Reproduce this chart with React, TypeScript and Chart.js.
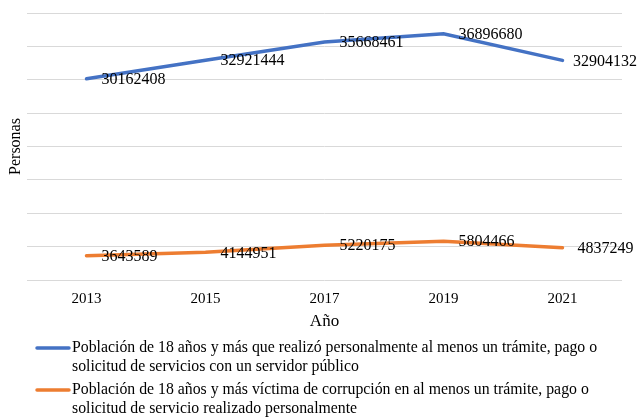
import React, { useEffect, useRef } from "react";
import { Chart, registerables } from "chart.js";

Chart.register(...registerables);

const years = ["2013", "2015", "2017", "2019", "2021"];
const tramites = [30162408, 32921444, 35668461, 36896680, 32904132];
const corrupcion = [3643589, 4144951, 5220175, 5804466, 4837249];
const seriesNames = [
  ["Población de 18 años y más que realizó personalmente al menos un trámite, pago o", "solicitud de servicios con un servidor público"],
  ["Población de 18 años y más víctima de corrupción en al menos un trámite, pago o", "solicitud de servicio realizado personalmente"],
];
const yTitle = "Personas";
const xTitle = "Año";
const colors = ["#4472C4", "#ED7D31"];
const FONT = "'Liberation Serif', 'Times New Roman', serif";

const labelPlugin = {
  id: "valueLabels",
  afterDatasetsDraw(chart: any) {
    const ctx = chart.ctx;
    ctx.save();
    ctx.font = `16px ${FONT}`;
    ctx.fillStyle = "#000";
    ctx.textBaseline = "middle";
    ctx.textAlign = "left";
    chart.data.datasets.forEach((ds: any, i: number) => {
      const meta = chart.getDatasetMeta(i);
      meta.data.forEach((pt: any, j: number) => {
        const txt = String(ds.data[j]);
        const w = ctx.measureText(txt).width;
        const x = Math.min(pt.x + 15, chart.width - w);
        ctx.fillText(txt, x, pt.y + 1);
      });
    });
    ctx.restore();
  },
};

const legendPlugin = {
  id: "customLegend",
  afterDraw(chart: any) {
    const ctx = chart.ctx;
    ctx.save();
    ctx.font = `15.8px ${FONT}`;
    ctx.fillStyle = "#000";
    ctx.textBaseline = "middle";
    ctx.textAlign = "left";
    const starts = [348, 390];
    seriesNames.forEach((lines, i) => {
      const y0 = starts[i];
      ctx.strokeStyle = colors[i];
      ctx.lineWidth = 3.5;
      ctx.lineCap = "round";
      ctx.beginPath();
      ctx.moveTo(37, y0);
      ctx.lineTo(69, y0);
      ctx.stroke();
      lines.forEach((t, k) => ctx.fillText(t, 72, y0 + k * 19));
    });
    ctx.restore();
  },
};

export default function App() {
  const ref = useRef<HTMLCanvasElement>(null);
  useEffect(() => {
    if (!ref.current) return;
    const chart = new Chart(ref.current, {
      type: "line",
      data: {
        labels: years,
        datasets: [
          {
            label: seriesNames[0].join(" "),
            data: tramites,
            borderColor: colors[0],
            backgroundColor: colors[0],
            borderWidth: 3.5,
            pointRadius: 0,
            tension: 0,
            borderCapStyle: "round",
          },
          {
            label: seriesNames[1].join(" "),
            data: corrupcion,
            borderColor: colors[1],
            backgroundColor: colors[1],
            borderWidth: 3.5,
            pointRadius: 0,
            tension: 0,
            borderCapStyle: "round",
          },
        ],
      },
      options: {
        responsive: false,
        animation: false,
        layout: { padding: { top: 13, right: 15, left: 0, bottom: 85 } },
        plugins: { legend: { display: false }, tooltip: { enabled: false } },
        scales: {
          x: {
            offset: true,
            grid: { display: false, drawTicks: false },
            border: { display: false },
            ticks: { color: "#000", font: { family: FONT, size: 15 }, padding: 10 },
            title: {
              display: true,
              text: xTitle,
              color: "#000",
              font: { family: FONT, size: 17 },
              padding: { top: 0, bottom: 0 },
            },
            afterFit: (s: any) => {
              s.height = 52;
            },
          },
          y: {
            min: 0,
            max: 40000000,
            ticks: { display: false, stepSize: 5000000 },
            grid: { color: "#d9d9d9", lineWidth: 1, drawTicks: false },
            border: { display: false },
            title: {
              display: true,
              text: yTitle,
              color: "#000",
              font: { family: FONT, size: 16 },
              padding: { top: 6, bottom: 0 },
            },
            afterFit: (s: any) => {
              s.width = 27;
            },
          },
        },
      },
      plugins: [labelPlugin, legendPlugin],
    });
    return () => chart.destroy();
  }, []);
  return (
    <div style={{ position: "absolute", left: 0, top: 0, width: 637, height: 417, background: "#fff" }}>
      <canvas ref={ref} width={637} height={417} />
    </div>
  );
}
